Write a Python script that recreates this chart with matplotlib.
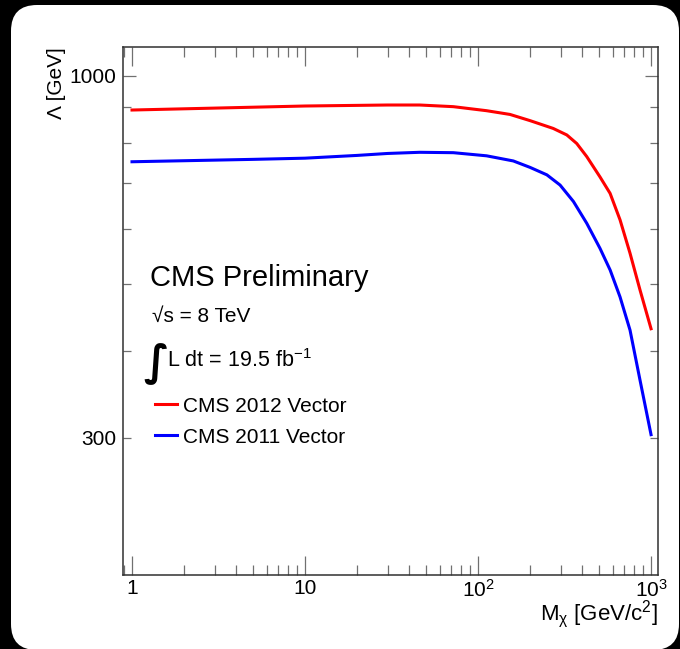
import matplotlib
matplotlib.use("Agg")
import matplotlib.pyplot as plt
from matplotlib.patches import FancyBboxPatch
from matplotlib.ticker import FixedLocator, FixedFormatter, NullFormatter

plt.rcParams['font.family'] = ['Liberation Sans', 'DejaVu Sans']
plt.rcParams['mathtext.fontset'] = 'custom'
plt.rcParams['mathtext.rm'] = 'Liberation Sans'
plt.rcParams['mathtext.it'] = 'Liberation Sans:italic'

# limits (Lambda vs dark matter mass)
mass_2012 = [1, 10, 30, 46, 72, 112, 153, 200, 272, 326, 372, 425, 507, 580, 662, 756, 864, 1000]
lambda_2012 = [892, 904, 907, 907, 902, 890, 879, 861, 839, 821, 798, 764, 714, 676, 619, 554, 490, 431]
mass_2011 = [1, 5, 10, 20, 30, 46, 72, 112, 160, 200, 250, 298, 356, 425, 507, 580, 662, 756, 864, 1000]
lambda_2011 = [751, 757, 760, 767, 772, 775, 774, 766, 753, 737, 719, 695, 658, 612, 563, 524, 479, 429, 363, 303]

x_major = [1, 10, 100, 1000]
x_labels = ['1', '10', r'$\mathregular{10^{2}}$', r'$\mathregular{10^{3}}$']
y_major = [1000]
y_minor = [300, 400, 500, 600, 700, 800, 900]

W, H = 680, 649
fig = plt.figure(figsize=(W / 100, H / 100), dpi=100)
fig.patch.set_facecolor('black')

# white rounded panel
panel = FancyBboxPatch((0.11, -0.01), 6.68, 6.45,
                       boxstyle="round,pad=0,rounding_size=0.26",
                       transform=fig.dpi_scale_trans, facecolor='white',
                       edgecolor='none', zorder=-5)
fig.patches.append(panel)

def fx(px):
    return px / W

def fy(py):
    return 1 - py / H

ax = fig.add_axes([fx(123), fy(575), fx(658) - fx(123), fy(47) - fy(575)])
ax.set_zorder(2)
ax.set_xscale('log')
ax.set_yscale('log')
ax.set_xlim(0.887, 1097)
ax.set_ylim(190, 1100)

l1, = ax.plot(mass_2012, lambda_2012, color='#ff0000', lw=2.2, label='CMS 2012 Vector',
              solid_joinstyle='round')
l2, = ax.plot(mass_2011, lambda_2011, color='#0000ff', lw=2.2, label='CMS 2011 Vector',
              solid_joinstyle='round')

ax.xaxis.set_major_locator(FixedLocator(x_major))
ax.xaxis.set_major_formatter(FixedFormatter(x_labels))
ax.xaxis.set_minor_formatter(NullFormatter())
ax.yaxis.set_major_locator(FixedLocator(y_major))
ax.yaxis.set_minor_locator(FixedLocator(y_minor))
ax.yaxis.set_major_formatter(FixedFormatter(['1000']))
ax.yaxis.set_minor_formatter(FixedFormatter(['300', '', '', '', '', '', '']))

tick_col = '#707070'
ax.tick_params(axis='x', which='major', direction='in', length=13.5, width=0.9,
               color=tick_col, top=True, labelsize=15, pad=3)
ax.tick_params(axis='x', which='minor', direction='in', length=7, width=0.9,
               color=tick_col, top=True)
ax.tick_params(axis='y', which='major', direction='in', length=9.5, width=0.9,
               color=tick_col, right=True, labelsize=15, pad=5)
ax.tick_params(axis='y', which='minor', direction='in', length=5.5, width=0.9,
               color=tick_col, right=True, labelsize=15, pad=5)
for s in ax.spines.values():
    s.set_color('#303030')
    s.set_linewidth(1.1)

# axis titles, ROOT style (aligned to the ends)
fig.text(fx(658), fy(614), r'$\mathregular{M_{\chi}}$ [GeV/c$^{\mathregular{2}}$]',
         ha='right', va='center', fontsize=16)
fig.text(fx(57), fy(47), 'Λ [GeV]', rotation=90, ha='center', va='top', fontsize=15)

# labels inside the frame
fig.text(fx(150), fy(286), 'CMS Preliminary', ha='left', va='baseline', fontsize=21)
fig.text(fx(152), fy(322), '√s = 8 TeV', ha='left', va='baseline', fontsize=15)
fig.text(fx(143), fy(364), '∫', ha='left', va='center', fontsize=30,
         family='DejaVu Sans', fontweight='bold')
fig.text(fx(167), fy(367), r'L dt = 19.5 fb$^{\mathregular{-1}}$', ha='left',
         va='baseline', fontsize=15.5)

ax.legend(handles=[l1, l2], loc='upper left', bbox_to_anchor=(fx(155), fy(396.5)),
          bbox_transform=fig.transFigure, frameon=False, fontsize=15,
          handlelength=1.06, handletextpad=0.29, labelspacing=0.59,
          borderpad=0, borderaxespad=0)

fig.savefig('out.png', dpi=100, facecolor=fig.get_facecolor())
